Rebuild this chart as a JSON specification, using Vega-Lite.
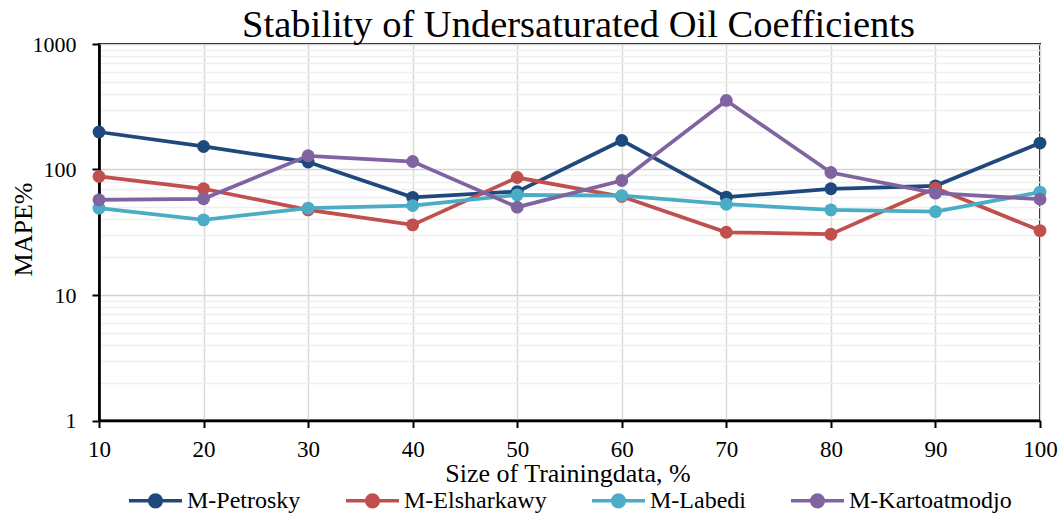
{
  "$schema": "https://vega.github.io/schema/vega-lite/v6.json",
  "autosize": "none",
  "width": 941,
  "height": 376.5,
  "padding": {"left": 99, "top": 44, "right": 23, "bottom": 92.5},
  "background": "white",
  "title": {
    "text": "Stability of Undersaturated Oil Coefficients",
    "font": "Liberation Serif",
    "fontSize": 38.5,
    "fontWeight": "normal",
    "color": "black",
    "anchor": "middle",
    "frame": "group",
    "offset": 0,
    "dx": 9,
    "dy": 12
  },
  "data": {
    "values": [
      {"size": 10, "model": "M-Petrosky", "mape": 199},
      {"size": 20, "model": "M-Petrosky", "mape": 152.6},
      {"size": 30, "model": "M-Petrosky", "mape": 114.6},
      {"size": 40, "model": "M-Petrosky", "mape": 60},
      {"size": 50, "model": "M-Petrosky", "mape": 66.7},
      {"size": 60, "model": "M-Petrosky", "mape": 170.4},
      {"size": 70, "model": "M-Petrosky", "mape": 60.2},
      {"size": 80, "model": "M-Petrosky", "mape": 70.2},
      {"size": 90, "model": "M-Petrosky", "mape": 74.1},
      {"size": 100, "model": "M-Petrosky", "mape": 162.4},
      {"size": 10, "model": "M-Elsharkawy", "mape": 88},
      {"size": 20, "model": "M-Elsharkawy", "mape": 70.2},
      {"size": 30, "model": "M-Elsharkawy", "mape": 47.7},
      {"size": 40, "model": "M-Elsharkawy", "mape": 36.2},
      {"size": 50, "model": "M-Elsharkawy", "mape": 86.3},
      {"size": 60, "model": "M-Elsharkawy", "mape": 60.9},
      {"size": 70, "model": "M-Elsharkawy", "mape": 31.6},
      {"size": 80, "model": "M-Elsharkawy", "mape": 30.5},
      {"size": 90, "model": "M-Elsharkawy", "mape": 71.1},
      {"size": 100, "model": "M-Elsharkawy", "mape": 32.6},
      {"size": 10, "model": "M-Labedi", "mape": 49.2},
      {"size": 20, "model": "M-Labedi", "mape": 39.7},
      {"size": 30, "model": "M-Labedi", "mape": 49.2},
      {"size": 40, "model": "M-Labedi", "mape": 51.6},
      {"size": 50, "model": "M-Labedi", "mape": 62.8},
      {"size": 60, "model": "M-Labedi", "mape": 62},
      {"size": 70, "model": "M-Labedi", "mape": 52.9},
      {"size": 80, "model": "M-Labedi", "mape": 47.7},
      {"size": 90, "model": "M-Labedi", "mape": 46.2},
      {"size": 100, "model": "M-Labedi", "mape": 66},
      {"size": 10, "model": "M-Kartoatmodjo", "mape": 57.3},
      {"size": 20, "model": "M-Kartoatmodjo", "mape": 58.4},
      {"size": 30, "model": "M-Kartoatmodjo", "mape": 128.6},
      {"size": 40, "model": "M-Kartoatmodjo", "mape": 115.8},
      {"size": 50, "model": "M-Kartoatmodjo", "mape": 50.1},
      {"size": 60, "model": "M-Kartoatmodjo", "mape": 81.7},
      {"size": 70, "model": "M-Kartoatmodjo", "mape": 355},
      {"size": 80, "model": "M-Kartoatmodjo", "mape": 94.6},
      {"size": 90, "model": "M-Kartoatmodjo", "mape": 64.8},
      {"size": 100, "model": "M-Kartoatmodjo", "mape": 58}
    ]
  },
  "encoding": {
    "x": {
      "field": "size",
      "type": "quantitative",
      "scale": {"domain": [10, 100], "nice": false, "zero": false},
      "axis": {
        "title": "Size of Trainingdata, %",
        "values": [10, 20, 30, 40, 50, 60, 70, 80, 90, 100],
        "labelFlush": false,
        "labelOverlap": false,
        "labelFont": "Liberation Serif",
        "labelFontSize": 23,
        "labelColor": "black",
        "labelPadding": 11,
        "tickColor": "black",
        "tickSize": 7,
        "tickWidth": 2,
        "domainColor": "black",
        "domainWidth": 2.7,
        "grid": true,
        "gridColor": "#d9d9d9",
        "gridWidth": 1.5,
        "titleFont": "Liberation Serif",
        "titleFontSize": 26,
        "titleFontWeight": "normal",
        "titleColor": "black",
        "titleAlign": "center",
        "titleBaseline": "alphabetic",
        "titleX": 468.5,
        "titleY": 61
      }
    },
    "y": {
      "field": "mape",
      "type": "quantitative",
      "scale": {"type": "log", "domain": [1, 1000], "nice": false},
      "axis": {
        "title": "MAPE%",
        "values": [1, 2, 3, 4, 5, 6, 7, 8, 9, 10, 20, 30, 40, 50, 60, 70, 80, 90, 100, 200, 300, 400, 500, 600, 700, 800, 900, 1000],
        "format": "d",
        "labelExpr": "indexof([1, 10, 100, 1000], datum.value) >= 0 ? datum.label : ''",
        "labelOverlap": false,
        "labelFont": "Liberation Serif",
        "labelFontSize": 22,
        "labelColor": "black",
        "labelPadding": 16,
        "tickSize": 7,
        "tickWidth": 2,
        "tickColor": {
          "condition": {"test": "indexof([1, 10, 100, 1000], datum.value) < 0", "value": "transparent"},
          "value": "black"
        },
        "domainColor": "black",
        "domainWidth": 2.7,
        "grid": true,
        "gridWidth": 1.5,
        "gridColor": {
          "condition": {"test": "indexof([1, 10, 100, 1000], datum.value) >= 0", "value": "#d4d4d4"},
          "value": "#efefef"
        },
        "titleFont": "Liberation Serif",
        "titleFontSize": 26,
        "titleFontWeight": "normal",
        "titleColor": "black",
        "titleAngle": 270,
        "titleAlign": "center",
        "titleBaseline": "alphabetic",
        "titleX": -68,
        "titleY": 185
      }
    },
    "color": {
      "field": "model",
      "type": "nominal",
      "scale": {
        "domain": ["M-Petrosky", "M-Elsharkawy", "M-Labedi", "M-Kartoatmodjo"],
        "range": ["#1f497d", "#c0504d", "#4bacc6", "#8064a2"]
      },
      "legend": {
        "title": null,
        "orient": "none",
        "direction": "horizontal",
        "legendX": 28,
        "legendY": 428,
        "padding": 0,
        "columnPadding": 38,
        "symbolType": "M -1 0 L 1 0 M -0.22 0 A 0.22 0.22 0 1 0 0.22 0 A 0.22 0.22 0 1 0 -0.22 0 Z",
        "symbolSize": 2809,
        "symbolStrokeWidth": 3.5,
        "symbolOpacity": 1,
        "labelFont": "Liberation Serif",
        "labelFontSize": 24,
        "labelColor": "black",
        "labelOffset": 3,
        "labelLimit": 0,
        "encode": {
          "symbols": {
            "update": {
              "fill": {"scale": "color", "field": "value"},
              "stroke": {"scale": "color", "field": "value"},
              "opacity": {"value": 1}
            }
          }
        }
      }
    }
  },
  "layer": [
    {"mark": {"type": "line", "strokeWidth": 3.75}},
    {"mark": {"type": "point", "filled": true, "size": 165, "opacity": 1}}
  ],
  "config": {
    "view": {"stroke": "black", "strokeWidth": 2}
  }
}
